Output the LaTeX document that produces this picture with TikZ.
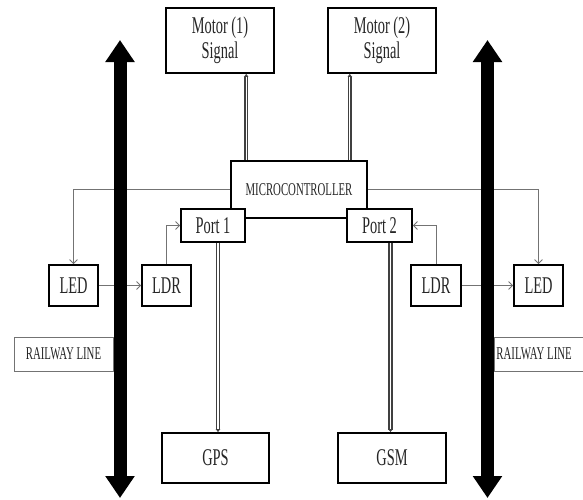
\documentclass[tikz,border=0pt]{standalone}
\usepackage{fontspec}
\newfontfamily\lab[FakeStretch=0.6]{Liberation Serif}
\usetikzlibrary{arrows.meta,calc}
\begin{document}
\begin{tikzpicture}[x=1pt,y=-1pt,
  box/.style={draw=black,line width=1.6pt,fill=white,inner sep=0pt,align=center,
    font=\lab\fontsize{24}{25}\selectfont,text=black!85},
  railbox/.style={draw=black!55,line width=0.9pt,fill=white,inner sep=0pt,
    font=\lab\fontsize{18}{20}\selectfont,text=black!85},
  thinarrow/.style={draw=black!55,line width=0.9pt,-{Straight Barb[length=4pt,width=8pt]}},
  dbl/.style={draw=black!75,line width=1.6pt,double=white,double distance=1.1pt,-{Latex[length=3pt,width=5pt]}},
  rail/.style={line width=13pt,{Triangle[width=28pt,length=22pt]}-{Triangle[width=28pt,length=22pt]}}]
\useasboundingbox (0,0) rectangle (583,499);
\clip (0,0) rectangle (583,499);
% coordinates for railway arrows
\coordinate (rLt) at (120,40);
\coordinate (rLb) at (120,498);
\coordinate (rRt) at (487.5,40);
\coordinate (rRb) at (487.5,498);
% nodes
\node[box,minimum width=108pt,minimum height=65pt] (m1) at (220,40.5) {Motor (1)\\Signal};
\node[box,minimum width=108pt,minimum height=65pt] (m2) at (382,40.5) {Motor (2)\\Signal};
\node[box,minimum width=136pt,minimum height=57pt,font=\lab\fontsize{18}{20}\selectfont] (mc) at (299,189.5) {MICROCONTROLLER};
\node[box,minimum width=49pt,minimum height=41pt] (ledL) at (73.5,285.5) {LED};
\node[box,minimum width=49pt,minimum height=41pt] (ldrL) at (166.5,285.5) {LDR};
\node[box,minimum width=50pt,minimum height=41pt] (ldrR) at (436,285.5) {LDR};
\node[box,minimum width=49pt,minimum height=41pt] (ledR) at (538.5,285.5) {LED};
\node[box,minimum width=107pt,minimum height=50pt] (gps) at (215.5,458) {GPS};
\node[box,minimum width=108pt,minimum height=50pt] (gsm) at (392,458) {GSM};
% thin connectors
\draw[thinarrow] (mc.west) -| (ledL.north);
\draw[thinarrow] (mc.east) -| (ledR.north);
\draw[thinarrow] (ledL.east) -- (ldrL.west);
\draw[thinarrow] (ldrR.east) -- (ledR.west);
% railway lines
\draw[rail] (rLt) -- (rLb);
\draw[rail] (rRt) -- (rRb);
\node[railbox,minimum width=99pt,minimum height=34pt] (railL) at (63.5,354) {RAILWAY LINE};
\node[railbox,anchor=west,minimum width=96pt,minimum height=34pt] (railR) at (494,354) {\makebox[92pt][l]{RAILWAY LINE}};
% ports (over microcontroller)
\node[box,minimum width=64pt,minimum height=33pt] (p1) at (213,225.5) {Port 1};
\node[box,minimum width=65pt,minimum height=33pt] (p2) at (379.5,225.5) {Port 2};
\draw[thinarrow] (ldrL.north) |- (p1.west);
\draw[thinarrow] (ldrR.north) |- (p2.east);
% double connectors
\draw[dbl] ([xshift=16pt]mc.north west) -- ([xshift=16pt]mc.north west |- m1.south);
\draw[dbl] ([xshift=-18pt]mc.north east) -- ([xshift=-18pt]mc.north east |- m2.south);
\draw[dbl] ([xshift=5pt]p1.south) -- ([xshift=5pt]p1.south |- gps.north);
\draw[dbl] ([xshift=11pt]p2.south) -- ([xshift=11pt]p2.south |- gsm.north);
\end{tikzpicture}
\end{document}
